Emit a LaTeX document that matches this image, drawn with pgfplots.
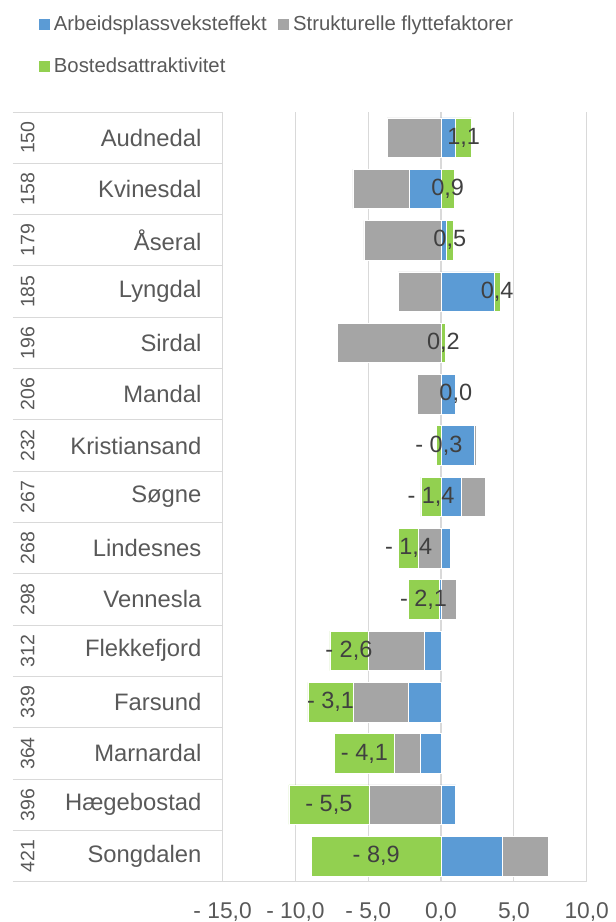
\documentclass[border=0pt]{standalone}
\usepackage{fontspec}
\setmainfont{Liberation Sans}
\usepackage{graphicx}
\usepackage{pgfplots}
\usepackage{pgfplotstable}
\pgfplotsset{compat=1.18}
\definecolor{cblue}{HTML}{5B9BD5}
\definecolor{cgray}{HTML}{A5A5A5}
\definecolor{cgreen}{HTML}{92D050}
\definecolor{gridc}{HTML}{D9D9D9}
\definecolor{txt}{HTML}{595959}
\definecolor{labc}{HTML}{404040}
\newcommand\fT{\fontsize{22.8}{26}\selectfont}
\newcommand\fC{\fontsize{23.8}{27}\selectfont}
\newcommand\fN{\fontsize{19.5}{22}\selectfont}
\newcommand\fL{\fontsize{20.3}{24}\selectfont}
\newcommand\fD{\fontsize{23.5}{27}\selectfont}

% positive parts (blue, gray, green) and label of green
\pgfplotstableread[col sep=semicolon]{
y;b;g;r;lab
0;1.00;0;1.10;1,1
1;0;0;0.90;0,9
2;0.35;0;0.50;0,5
3;3.65;0;0.40;0,4
4;0.05;0;0.22;0,2
5;1.00;0;0.02;0,0
6;2.27;0.18;0;{}
7;1.40;1.65;0;{}
8;0.66;0;0;{}
9;0;1.03;0;{}
10;0;0;0;{}
11;0;0;0;{}
12;0;0;0;{}
13;1.00;0;0;{}
14;4.20;3.15;0;{}
}\postab
% negative parts
\pgfplotstableread[col sep=semicolon]{
y;b;g;r;lab
0;0;-3.70;0;{}
1;-2.15;-3.90;0;{}
2;0;-5.30;0;{}
3;0;-2.95;0;{}
4;0;-7.10;0;{}
5;0;-1.65;0;{}
6;0;0;-0.30;- 0,3
7;0;0;-1.38;- 1,4
8;0;-1.53;-1.40;- 1,4
9;-0.14;0;-2.13;- 2,1
10;-1.12;-3.91;-2.60;- 2,6
11;-2.22;-3.82;-3.10;- 3,1
12;-1.40;-1.81;-4.10;- 4,1
13;0;-4.95;-5.50;- 5,5
14;0;0;-8.90;- 8,9
}\negtab

\pgfplotsset{
  common/.style={
    scale only axis, width=364.1pt, height=769.7pt,
    at={(222.6pt,40.3pt)}, anchor=south west,
    xmin=-15, xmax=10, ymin=-0.5, ymax=14.5, y dir=reverse,
    xbar stacked, bar width=39.5pt,
  },
  barstyle/.style={draw=white, line width=0.6pt, fill=#1},
  greenlab/.style={
    nodes near coords, point meta=explicit symbolic,
    every node near coord/.append style={anchor=center, font=\fD, text=labc, inner sep=0pt},
  },
}

\begin{document}
\begin{tikzpicture}
\path[use as bounding box] (0pt,0pt) rectangle (616pt,922pt);
% axis A: frame, grid, ticks, legend, positive bars
\begin{axis}[common,
  axis x line*=bottom, axis y line*=left,
  axis line style={gridc, line width=1.2pt},
  xmajorgrids, major grid style={gridc, line width=1.2pt},
  major tick length=0pt,
  xtick={-15,-10,-5,0,5,10},
  xticklabels={{- 15,0},{- 10,0},{- 5,0},{0,0},{5,0},{10,0}},
  xticklabel style={font=\fT, text=txt, yshift=-17.5pt},
  ytick={0,...,14},
  yticklabels={Audnedal,Kvinesdal,Åseral,Lyngdal,Sirdal,Mandal,Kristiansand,Søgne,Lindesnes,Vennesla,Flekkefjord,Farsund,Marnardal,Hægebostad,Songdalen},
  yticklabel style={font=\fC, text=txt, anchor=east, inner sep=0pt, xshift=-21pt},
  extra y ticks={0,...,14},
  extra y tick labels={\rotatebox{90}{150},\rotatebox{90}{158},\rotatebox{90}{179},\rotatebox{90}{185},\rotatebox{90}{196},\rotatebox{90}{206},\rotatebox{90}{232},\rotatebox{90}{267},\rotatebox{90}{268},\rotatebox{90}{298},\rotatebox{90}{312},\rotatebox{90}{339},\rotatebox{90}{364},\rotatebox{90}{396},\rotatebox{90}{421}},
  extra y tick style={yticklabel style={font=\fN, anchor=center, xshift=-174pt}},
  legend columns=2,
  legend cell align=left,
  legend image code/.code={\draw[#1,draw=none] (0pt,-5.5pt) rectangle (11pt,5.5pt);},
  legend style={draw=none, fill=none, at={(axis description cs:-0.505,1.125)}, anchor=north west,
    font=\fL, text=txt, inner sep=0pt, row sep=26pt, column sep=0pt,
    nodes={inner xsep=0pt, inner ysep=0pt},
    /tikz/every odd column/.append style={column sep=4pt},
    /tikz/every even column/.append style={column sep=11.4pt}},
  clip=false,
]
\pgfplotsinvokeforeach{-0.5,0.5,1.5,2.5,3.5,4.5,5.5,6.5,7.5,8.5,9.5,10.5,11.5,12.5,13.5,14.5}{
  \draw[gridc, line width=1pt] ([xshift=-209.6pt]axis cs:-15,#1) -- (axis cs:-15,#1);
}
\addplot[barstyle=cblue] table[x=b, y=y]{\postab};
\addlegendentry{Arbeidsplassveksteffekt}
\addplot[barstyle=cgray] table[x=g, y=y]{\postab};
\addlegendentry{Strukturelle flyttefaktorer}
\addplot[barstyle=cgreen] table[x=r, y=y]{\postab};
\addlegendentry{Bostedsattraktivitet}
\end{axis}
% axis B: negative bars with their labels
\begin{axis}[common, hide axis]
\addplot[barstyle=cblue] table[x=b, y=y]{\negtab};
\addplot[barstyle=cgray] table[x=g, y=y]{\negtab};
\addplot[barstyle=cgreen, greenlab] table[x=r, y=y, meta=lab]{\negtab};
\end{axis}
% axis C: labels of positive green parts, on top
\begin{axis}[common, hide axis]
\addplot[draw=none, fill=none] table[x=b, y=y]{\postab};
\addplot[draw=none, fill=none] table[x=g, y=y]{\postab};
\addplot[draw=none, fill=none, greenlab] table[x=r, y=y, meta=lab]{\postab};
\end{axis}
\end{tikzpicture}
\end{document}
